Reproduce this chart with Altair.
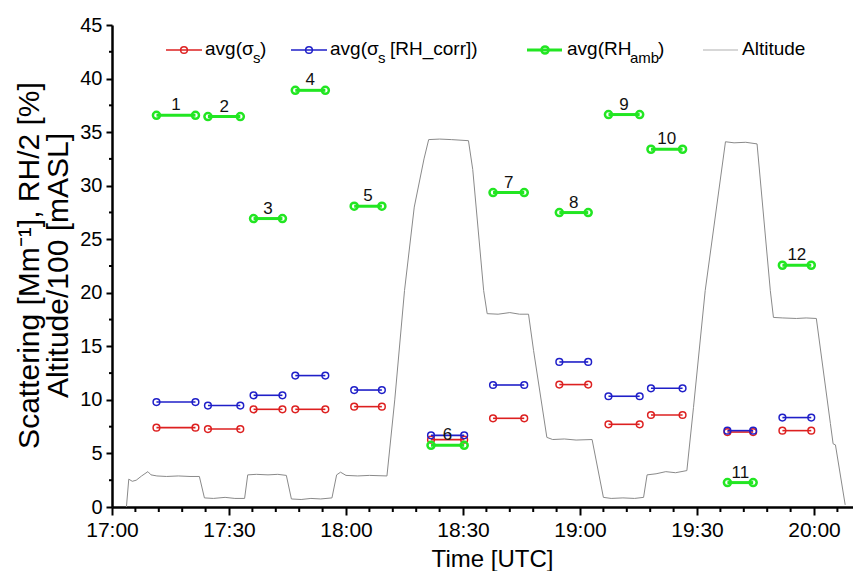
import pandas as pd
import altair as alt

FONT = "Liberation Sans"

# flight legs, start / end in minutes after 17:00 UTC
legs = list(range(1, 13))
leg_start = [11.4, 24.6, 36.3, 47.0, 62.1, 81.8, 97.7, 114.7, 127.3, 138.2, 157.8, 171.9]
leg_end = [21.4, 32.9, 43.7, 54.7, 69.2, 90.3, 105.7, 122.1, 135.3, 146.3, 164.4, 179.3]

# leg averages
avg_sigma = [7.41, 7.28, 9.12, 9.12, 9.37, 6.29, 8.28, 11.43, 7.72, 8.59, 7.00, 7.13]
avg_sigma_rh = [9.80, 9.47, 10.43, 12.27, 10.92, 6.69, 11.39, 13.54, 10.34, 11.08, 7.13, 8.35]
avg_rh_amb = [36.57, 36.45, 26.93, 38.90, 28.08, 5.76, 29.36, 27.49, 36.64, 33.40, 2.28, 22.57]

# altitude trace (Altitude/100 m ASL)
alt_minutes = [3.7, 4.3, 5.2, 6.2, 7.6, 9.2, 10.0, 11.5, 14.0, 17.0, 20.0, 22.4, 23.7, 26.0,
               29.0, 31.5, 34.0, 34.8, 37.0, 40.0, 42.5, 44.7, 46.0, 48.5, 51.0, 53.5, 56.4,
               57.6, 58.6, 60.0, 63.0, 66.0, 70.5, 72.5, 75.0, 77.5, 80.0, 81.2, 84.0, 87.0,
               91.4, 92.5, 95.3, 96.2, 99.0, 102.0, 104.5, 106.8, 108.1, 111.5, 113.0, 116.0,
               119.0, 123.1, 126.0, 128.0, 131.0, 134.0, 136.3, 137.2, 139.5, 142.0, 144.5,
               147.4, 149.1, 152.1, 157.3, 159.5, 162.5, 165.4, 168.8, 169.6, 172.0, 175.5,
               178.0, 180.6, 184.2, 184.9, 185.5, 188.0]
alt_values = [0.0, 2.6, 2.4, 2.5, 2.9, 3.3, 3.0, 2.9, 2.85, 2.9, 2.85, 2.85, 0.85, 0.8,
              0.9, 0.8, 0.8, 3.0, 3.05, 3.0, 3.05, 2.95, 0.75, 0.7, 0.8, 0.75, 0.85,
              3.0, 3.25, 2.95, 2.9, 2.95, 2.9, 10.0, 20.2, 28.0, 32.5, 34.3, 34.35, 34.3,
              34.2, 31.5, 20.2, 18.05, 18.0, 18.15, 18.0, 18.0, 14.6, 6.5, 6.3, 6.35,
              6.25, 6.3, 0.9, 0.8, 0.85, 0.8, 0.9, 3.0, 3.1, 3.3, 3.2,
              3.4, 9.3, 20.2, 34.1, 34.0, 34.05, 33.9, 20.2, 17.7, 17.65, 17.6,
              17.65, 17.6, 7.8, 5.9, 5.8, 0.2]

# axis ticks
x_major_minutes = [0, 30, 60, 90, 120, 150, 180]
x_minor_minutes = [m for m in range(0, 191, 6) if m % 30]
y_major = [0, 5, 10, 15, 20, 25, 30, 35, 40, 45]
y_minor = [2.5, 7.5, 12.5, 17.5, 22.5, 27.5, 32.5, 37.5, 42.5]

RED = "#dd2020"
BLUE = "#1f1fc8"
GREEN = "#22e622"
GRAY = "#8a8a8a"

W, H = 741, 482
T0 = pd.Timestamp("2013-07-01 17:00:00")


def clock(m):
    return T0 + pd.Timedelta(minutes=m)


def dt(m):
    return alt.DateTime(year=2013, month=7, date=1, hours=17 + m // 60, minutes=m % 60)


x_enc = alt.X(
    "t:T",
    scale=alt.Scale(domain=[dt(0), dt(190)], nice=False),
    axis=alt.Axis(
        values=[dt(m) for m in x_major_minutes], format="%H:%M", labelFlush=False,
        tickSize=8, tickWidth=2, domainWidth=2.5, labelFontSize=21, labelPadding=4,
        title="Time [UTC]", titleFontSize=24, titleX=380, titleY=59,
        titleBaseline="alphabetic", titleAlign="center",
    ),
)
y_enc = alt.Y(
    "v:Q",
    scale=alt.Scale(domain=[0, 45], nice=False),
    axis=alt.Axis(
        values=y_major, tickSize=6, tickWidth=2, domainWidth=2.5, labelFontSize=20,
        labelPadding=4,
        title=["Scattering [Mm⁻¹],  RH/2 [%]", "Altitude/100 [mASL]"],
        titleFontSize=30, titleLineHeight=29, titleX=-74, titleY=240,
        titleAngle=-90, titleBaseline="alphabetic", titleAlign="center",
    ),
)

altitude = pd.DataFrame({"t": [clock(m) for m in alt_minutes], "v": alt_values})


def leg_table(vals):
    rows = []
    for leg, s, e, v in zip(legs, leg_start, leg_end, vals):
        rows.append({"leg": leg, "t": clock(s), "v": v})
        rows.append({"leg": leg, "t": clock(e), "v": v})
    return pd.DataFrame(rows)


def leg_layer(vals, color, width, msize, mwidth):
    base = alt.Chart(leg_table(vals)).encode(x=x_enc, y=y_enc, detail="leg:N")
    line = base.mark_line(color=color, strokeWidth=width)
    pts = base.mark_point(color=color, filled=False, size=msize, strokeWidth=mwidth, opacity=1)
    return line + pts


labels = pd.DataFrame({
    "t": [clock((s + e) / 2) for s, e in zip(leg_start, leg_end)],
    "v": avg_rh_amb,
    "label": [str(n) for n in legs],
})

one = pd.DataFrame({"k": [0]})
LY = 25  # legend row, pixels below the plot top


def legend_line(x0, x1, color, width, marker=None, msize=45, mwidth=1.5):
    out = [alt.Chart(one).mark_rule(color=color, strokeWidth=width).encode(
        x=alt.value(x0), x2=alt.value(x1), y=alt.value(LY))]
    if marker is not None:
        out.append(alt.Chart(one).mark_point(color=color, filled=False, size=msize,
                                             strokeWidth=mwidth, opacity=1).encode(
            x=alt.value(marker), y=alt.value(LY)))
    return out


def legend_text(label, x, sub=False):
    return alt.Chart(one).mark_text(align="left", baseline="alphabetic", font=FONT,
                                    fontSize=15 if sub else 19, color="black").encode(
        x=alt.value(x), y=alt.value(LY + (13 if sub else 5)), text=alt.value(label))


layers = [
    alt.Chart(altitude).mark_line(color=GRAY, strokeWidth=1).encode(x=x_enc, y=y_enc),
    leg_layer(avg_sigma, RED, 1.6, 45, 1.5),
    leg_layer(avg_sigma_rh, BLUE, 1.6, 45, 1.5),
    leg_layer(avg_rh_amb, GREEN, 3, 50, 2.5),
    alt.Chart(labels).mark_text(baseline="alphabetic", dy=-5, font=FONT, fontSize=17,
                                color="#111").encode(x=x_enc, y=y_enc, text="label:N"),
    alt.Chart(pd.DataFrame({"t": [clock(m) for m in x_minor_minutes]})).mark_rule(
        color="black", strokeWidth=2).encode(x=x_enc, y=alt.value(H), y2=alt.value(H + 5)),
    alt.Chart(pd.DataFrame({"v": y_minor})).mark_rule(color="black", strokeWidth=2).encode(
        y=y_enc, x=alt.value(0), x2=alt.value(-3)),
]

layers += legend_line(54, 90, RED, 1.6, marker=72)
layers += [legend_text("avg(σ", 93), legend_text("s", 141, True), legend_text(")", 148)]
layers += legend_line(179, 215, BLUE, 1.6, marker=197)
layers += [legend_text("avg(σ", 218), legend_text("s", 266, True),
           legend_text("[RH_corr])", 278)]
layers += legend_line(415, 450, GREEN, 3, marker=433, msize=50, mwidth=2.5)
layers += [legend_text("avg(RH", 455), legend_text("amb", 518, True), legend_text(")", 546)]
layers += legend_line(591, 626, "#b0b0b0", 1.2)
layers += [legend_text("Altitude", 630)]

chart = alt.layer(*layers).properties(
    width=W, height=H,
    autosize=alt.AutoSizeParams(type="none"),
    padding={"left": 104, "top": 17, "right": 0, "bottom": 64},
).configure_view(stroke=None).configure_axis(
    grid=False, domainColor="black", tickColor="black", labelColor="black",
    titleColor="black", labelFont=FONT, titleFont=FONT, titleFontWeight="normal",
)

chart.save("out.html", embed_options={"renderer": "svg", "actions": False})
